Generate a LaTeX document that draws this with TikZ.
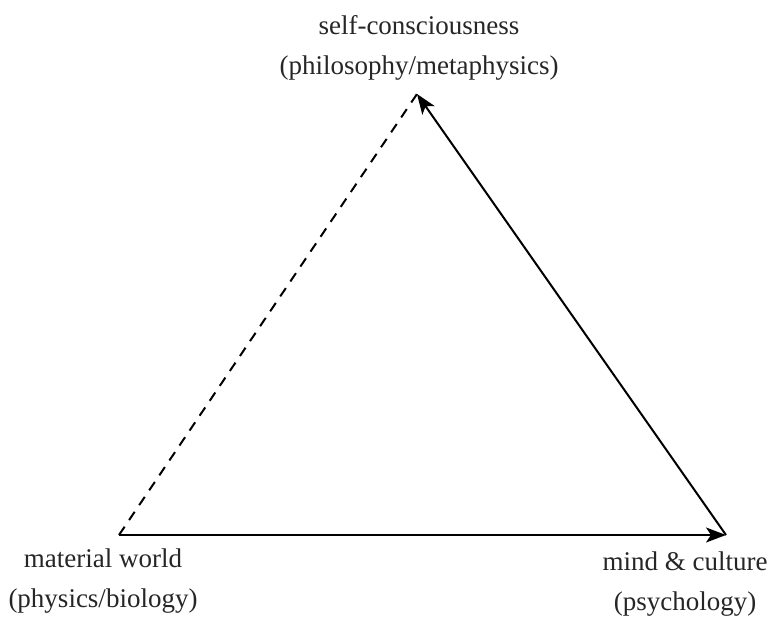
\documentclass[tikz,border=0pt]{standalone}
\usepackage{fontspec}
\setmainfont{Liberation Serif}
\usetikzlibrary{arrows.meta}
\begin{document}
\begin{tikzpicture}[x=1pt,y=-1pt,
  lbl/.style={inner sep=0pt, align=center, font=\fontsize{27}{40}\selectfont, text=black!85},
  edge/.style={line width=2pt, black},
  tip/.style={-{Stealth[length=20pt,width=15pt,inset=5pt]}}]
\useasboundingbox (0,0) rectangle (774,618);
\coordinate (top) at (417,94);
\coordinate (bl) at (119,535);
\coordinate (br) at (726,535);
\node[lbl] (ltop) at (419,48) {self-consciousness\\(philosophy/metaphysics)};
\node[lbl] (lbl) at (103,581) {material world\\(physics/biology)};
\node[lbl] (lbr) at (685,584) {mind \& culture\\(psychology)};
\draw[edge, dash pattern=on 10pt off 8pt] (bl) -- (top);
\draw[edge, tip] (bl) -- (br);
\draw[edge, tip] (br) -- (top);
\end{tikzpicture}
\end{document}
